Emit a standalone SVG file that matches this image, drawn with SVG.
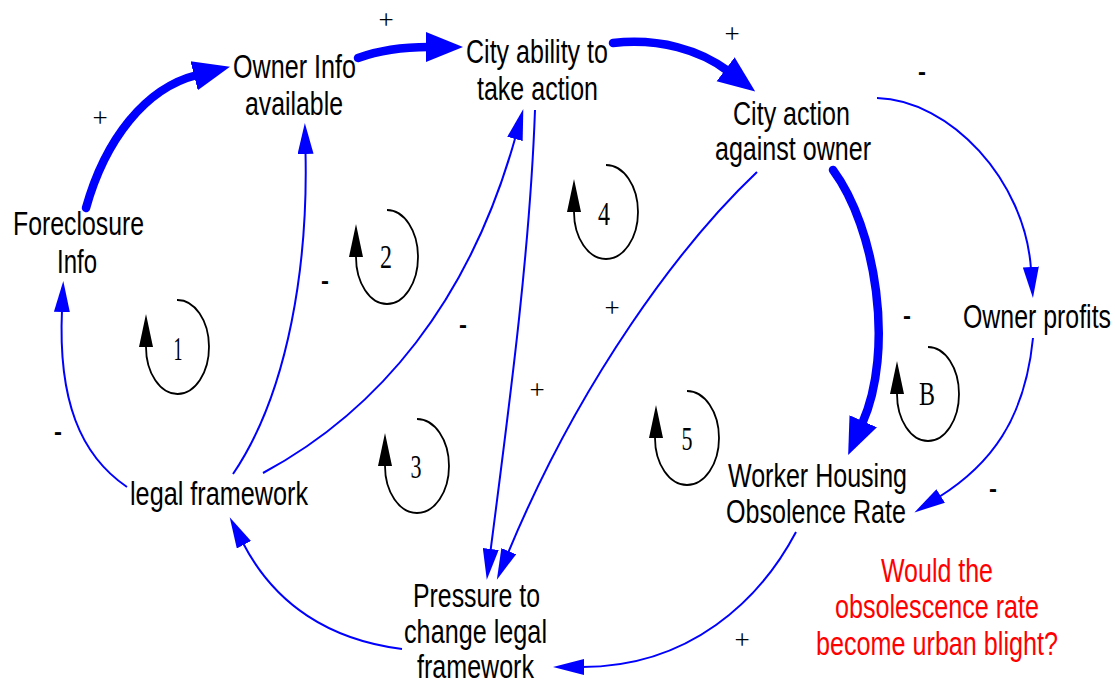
<svg xmlns="http://www.w3.org/2000/svg" width="1115" height="683" viewBox="0 0 1115 683">
  <style>
    .lbl{font-family:"Liberation Sans",Arial,sans-serif;font-size:34px;text-anchor:middle;fill:#000}
    .note{fill:#ff0000}
    .plus{font-family:"Liberation Serif","Times New Roman",serif;font-size:27px;text-anchor:middle;fill:#000}
    .minus{font-family:"Liberation Sans",Arial,sans-serif;font-size:24px;font-weight:bold;text-anchor:middle;fill:#000}
    .num{font-family:"Liberation Serif","Times New Roman",serif;font-size:34px;text-anchor:middle;fill:#000}
    .thin{fill:none;stroke:#0000ff;stroke-width:2;marker-end:url(#ah-thin)}
    .thick{fill:none;stroke:#0000ff;stroke-width:8.5;stroke-linecap:round;marker-end:url(#ah-thick)}
    .loop{fill:none;stroke:#000;stroke-width:1.8}
  </style>
  <defs>
    <marker id="ah-thin" markerUnits="userSpaceOnUse" markerWidth="32" markerHeight="16" viewBox="0 0 32 16" refX="2" refY="8" orient="auto">
      <path d="M0,0 L31,8 L0,16 z" fill="#0000ff"/>
    </marker>
    <marker id="ah-thick" markerUnits="userSpaceOnUse" markerWidth="38" markerHeight="32" viewBox="0 0 38 32" refX="3" refY="16" orient="auto">
      <path d="M0,1 L37,16 L0,31 z" fill="#0000ff"/>
    </marker>
    <path id="loop-arrow" d="M-7,0 L0,-33 L7,0 z" fill="#000"/>
  </defs>

  <rect width="1115" height="683" fill="#fff"/>

  <!-- causal links -->
  <g id="connectors">
    <path class="thick" d="M86,208 C105,140 145,88 197,75"/>
    <path class="thick" d="M358,58 C380,50 405,47 429,47"/>
    <path class="thick" d="M613,43 C660,38 700,50 728,71"/>
    <path class="thick" d="M833,170 C876,228 895,350 862,424"/>
    <path class="thin" d="M877,98 C950,100 1025,180 1031,269"/>
    <path class="thin" d="M1033,338 C1025,420 990,465 939,497"/>
    <path class="thin" d="M796,532 C760,600 690,667 582,667"/>
    <path class="thin" d="M402,649 C330,640 275,605 243,543"/>
    <path class="thin" d="M127,487 C80,455 58,400 62,310"/>
    <path class="thin" d="M233,474 C290,390 308,260 305.5,152"/>
    <path class="thin" d="M263,473 C380,410 470,300 515.5,137"/>
    <path class="thin" d="M535,110 C530,250 510,400 490.5,551"/>
    <path class="thin" d="M757,172 C680,245 580,380 508,553"/>
  </g>

  <!-- link polarities -->
  <g id="polarities">
    <text class="plus" x="386" y="29">+</text>
    <text class="plus" x="100" y="127">+</text>
    <text class="plus" x="732" y="43">+</text>
    <text class="plus" x="612" y="317">+</text>
    <text class="plus" x="537" y="399">+</text>
    <text class="plus" x="742" y="649">+</text>
    <text class="minus" x="922" y="80">-</text>
    <text class="minus" x="325" y="289">-</text>
    <text class="minus" x="463" y="333">-</text>
    <text class="minus" x="907" y="324">-</text>
    <text class="minus" x="58" y="440">-</text>
    <text class="minus" x="993" y="497">-</text>
  </g>

  <!-- loop identifiers -->
  <g id="loop-1">
    <path class="loop" d="M177,300 A31.5,47 0 1 1 146,347"/>
    <use href="#loop-arrow" x="146" y="347"/>
    <text class="num" x="178" y="360" textLength="9" lengthAdjust="spacingAndGlyphs">1</text>
  </g>
  <g id="loop-2">
    <path class="loop" d="M387,210 A31,47 0 1 1 356,257"/>
    <use href="#loop-arrow" x="356" y="257"/>
    <text class="num" x="386" y="268" textLength="12" lengthAdjust="spacingAndGlyphs">2</text>
  </g>
  <g id="loop-3">
    <path class="loop" d="M417,419 A32,47 0 1 1 385,466"/>
    <use href="#loop-arrow" x="385" y="466"/>
    <text class="num" x="416" y="478" textLength="11" lengthAdjust="spacingAndGlyphs">3</text>
  </g>
  <g id="loop-4">
    <path class="loop" d="M606,165 A32,47 0 1 1 574,212"/>
    <use href="#loop-arrow" x="574" y="212"/>
    <text class="num" x="604" y="225" textLength="12" lengthAdjust="spacingAndGlyphs">4</text>
  </g>
  <g id="loop-5">
    <path class="loop" d="M687,391 A32,47 0 1 1 655,438"/>
    <use href="#loop-arrow" x="656" y="438"/>
    <text class="num" x="687" y="450" textLength="11" lengthAdjust="spacingAndGlyphs">5</text>
  </g>
  <g id="loop-B">
    <path class="loop" d="M928,347 A31,47 0 1 1 897,394"/>
    <use href="#loop-arrow" x="897" y="394"/>
    <text class="num" x="927" y="405" textLength="16" lengthAdjust="spacingAndGlyphs">B</text>
  </g>

  <!-- variables -->
  <g id="foreclosure-info">
    <text class="lbl" x="78.5" y="235" textLength="131" lengthAdjust="spacingAndGlyphs">Foreclosure</text>
    <text class="lbl" x="77" y="273" textLength="40" lengthAdjust="spacingAndGlyphs">Info</text>
  </g>
  <g id="owner-info">
    <text class="lbl" x="294.5" y="78" textLength="123" lengthAdjust="spacingAndGlyphs">Owner Info</text>
    <text class="lbl" x="294" y="115" textLength="98" lengthAdjust="spacingAndGlyphs">available</text>
  </g>
  <g id="city-ability">
    <text class="lbl" x="537" y="63" textLength="142" lengthAdjust="spacingAndGlyphs">City ability to</text>
    <text class="lbl" x="537.5" y="100" textLength="121" lengthAdjust="spacingAndGlyphs">take action</text>
  </g>
  <g id="city-action">
    <text class="lbl" x="791.5" y="125" textLength="117" lengthAdjust="spacingAndGlyphs">City action</text>
    <text class="lbl" x="793" y="160" textLength="156" lengthAdjust="spacingAndGlyphs">against owner</text>
  </g>
  <g id="owner-profits">
    <text class="lbl" x="1037" y="328" textLength="148" lengthAdjust="spacingAndGlyphs">Owner profits</text>
  </g>
  <g id="obsolence-rate">
    <text class="lbl" x="817.5" y="487" textLength="179" lengthAdjust="spacingAndGlyphs">Worker Housing</text>
    <text class="lbl" x="816" y="523" textLength="180" lengthAdjust="spacingAndGlyphs">Obsolence Rate</text>
  </g>
  <g id="legal-framework">
    <text class="lbl" x="219" y="505" textLength="178" lengthAdjust="spacingAndGlyphs">legal framework</text>
  </g>
  <g id="pressure">
    <text class="lbl" x="476.5" y="607" textLength="127" lengthAdjust="spacingAndGlyphs">Pressure to</text>
    <text class="lbl" x="475.5" y="643" textLength="143" lengthAdjust="spacingAndGlyphs">change legal</text>
    <text class="lbl" x="475.5" y="678" textLength="117" lengthAdjust="spacingAndGlyphs">framework</text>
  </g>
  <g id="blight-question">
    <text class="lbl note" x="937" y="582" textLength="112" lengthAdjust="spacingAndGlyphs">Would the</text>
    <text class="lbl note" x="937" y="618" textLength="204" lengthAdjust="spacingAndGlyphs">obsolescence rate</text>
    <text class="lbl note" x="937" y="655" textLength="242" lengthAdjust="spacingAndGlyphs">become urban blight?</text>
  </g>
</svg>
